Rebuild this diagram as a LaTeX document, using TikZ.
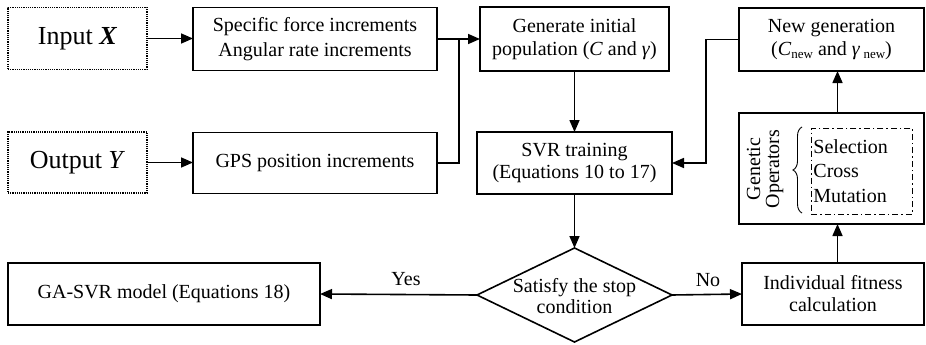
\documentclass[tikz,border=0pt]{standalone}
\usepackage{fontspec}
\setmainfont{Liberation Serif}
\usetikzlibrary{arrows.meta,shapes.geometric,decorations.pathreplacing}
\newcommand{\subnew}{\raisebox{-3pt}{\fontsize{13}{13}\selectfont new}}
\begin{document}
\begin{tikzpicture}[x=1pt,y=-1pt,
 box/.style={draw, line width=1.6pt, align=center, font=\fontsize{20}{23}\selectfont, inner sep=0pt, outer sep=0pt},
 iobox/.style={draw, densely dotted, line width=1.2pt, font=\fontsize{26}{30}\selectfont, inner sep=0pt, outer sep=0pt},
 arr/.style={line width=1.6pt, -{Triangle[length=12pt,width=10pt]}},
 lnk/.style={line width=1.6pt},
 lab/.style={font=\fontsize{20}{24}\selectfont, inner sep=0pt}]
\useasboundingbox (0,0) rectangle (926,345);

\node[iobox, minimum width=139, minimum height=62] (inx) at (77.5,38.5) {Input \textbf{\textit{X}}};
\node[iobox, minimum width=139, minimum height=61] (outy) at (77.5,162.5) {Output \textit{Y}};
\node[box, minimum width=244, minimum height=63, font=\fontsize{20}{25}\selectfont] (sf) at (315,39) {Specific force increments\\Angular rate increments};
\node[box, minimum width=244, minimum height=61] (gps) at (315,163) {GPS position increments};
\node[box, minimum width=189, minimum height=64] (gen) at (574.5,39) {Generate initial\\population (\textit{C} and \textit{γ})};
\node[box, minimum width=185, minimum height=63] (newg) at (831.5,39.5) {New generation\\(\textit{C}\subnew{} and \textit{γ}\,\subnew)};
\node[box, minimum width=195, minimum height=62, font=\fontsize{20}{22}\selectfont] (svr) at (574.5,163) {SVR training\\(Equations 10 to 17)};
\node[box, minimum width=185, minimum height=111] (genop) at (831.5,168.5) {};
\node[box, minimum width=182, minimum height=62, font=\fontsize{20}{22}\selectfont] (fit) at (833,294) {Individual fitness\\calculation};
\node[box, minimum width=312, minimum height=62] (model) at (164,294) {GA-SVR model (Equations 18)};
\node[draw, diamond, line width=1.6pt, minimum width=195, minimum height=94, inner sep=0pt, outer sep=0pt] (dec) at (574.5,295) {};
\node[align=center, font=\fontsize{20}{21}\selectfont, inner sep=0pt] (dect) at (574.5,296) {Satisfy the stop\\condition};

% genetic operators content
\node[rotate=90, align=center, font=\fontsize{20}{19}\selectfont, inner sep=0pt] (gotxt) at (765,169) {Genetic\\Operators};
\node[draw, line width=0.9pt, dash pattern=on 6pt off 3pt on 1.5pt off 3pt, align=left, text width=97pt, inner xsep=2pt, inner ysep=0pt, minimum height=86, font=\fontsize{20}{24.5}\selectfont, anchor=west] (ops) at (811,171) {Selection\\Cross\\Mutation};
\draw[line width=0.9pt, decorate, decoration={brace, amplitude=9pt}] (ops.west) ++(-9,42) coordinate (bb) -- ++(0,-86) coordinate (bt);

% connectors
\coordinate (j) at (459,39);
\draw[arr] (inx.east) -- (inx.east -| sf.west);
\draw[arr] (outy.east) -- (outy.east -| gps.west);
\draw[lnk] (gps.east) -| (j);
\draw[arr] (sf.east) -- (gen.west);
\draw[arr] (gen.south) -- (svr.north);
\coordinate (k) at (706,39.5);
\draw[arr] (newg.west) -- (k) |- (svr.east);
\draw[arr] (svr.south) -- (dec.north);
\draw[arr] (dec.east) -- (fit.west);
\draw[arr] (dec.west) -- (model.east);
\node[lab] (no) at (708,280) {No};
\node[lab] (yes) at (406,279) {Yes};
\coordinate (a) at (837.5,0);
\draw[arr] (fit.north -| a) -- (genop.south -| a);
\draw[arr] (genop.north -| a) -- (newg.south -| a);
\end{tikzpicture}
\end{document}
